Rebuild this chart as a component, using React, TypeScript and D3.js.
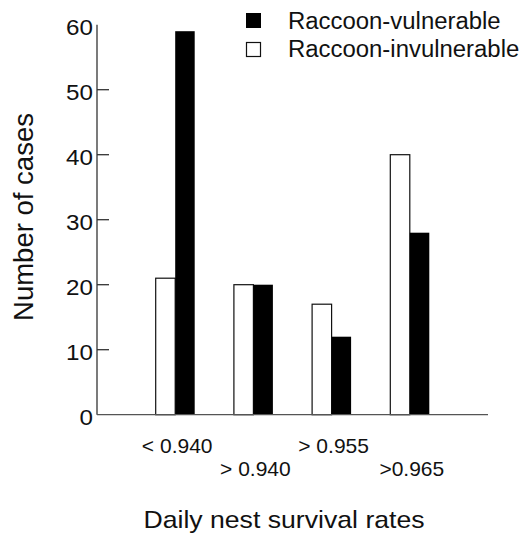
import * as d3 from 'd3';

const categories = ['< 0.940', '> 0.940', '> 0.955', '>0.965'];
const invulnerable = [21, 20, 17, 40];
const vulnerable = [59, 20, 12, 28];
const yTicks = [0, 10, 20, 30, 40, 50, 60];
const seriesNames = ['Raccoon-vulnerable', 'Raccoon-invulnerable'];

const W = 522;
const H = 533;
const FONT = "'Liberation Sans', Arial, Helvetica, sans-serif";

export default function App() {
  const x = d3.scalePoint<string>().domain(categories).range([97, 488]).padding(1);
  const y = d3.scaleLinear().domain([0, 60]).range([414.7, 24.7]);
  const barW = 19.5;

  return (
    <svg
      width={W}
      height={H}
      style={{ position: 'absolute', left: 0, top: 0, background: '#fff' }}
      fontFamily={FONT}
    >
      {/* bars */}
      {categories.map((c, i) => (
        <g key={c}>
          <rect
            x={x(c)! - barW}
            y={y(invulnerable[i])}
            width={barW}
            height={y(0) - y(invulnerable[i])}
            fill="#fff"
            stroke="#111"
            strokeWidth={1.2}
          />
          <rect
            x={x(c)!}
            y={y(vulnerable[i])}
            width={barW}
            height={y(0) - y(vulnerable[i])}
            fill="#000"
          />
        </g>
      ))}

      {/* axes */}
      <line x1={97} x2={97} y1={y(0)} y2={y(60)} stroke="#333" strokeWidth={1.3} />
      <line x1={97} x2={488} y1={y(0)} y2={y(0)} stroke="#555" strokeWidth={1.3} />
      {yTicks.map(t => (
        <g key={t}>
          {t > 0 && t < 60 && (
            <line x1={97} x2={109} y1={y(t)} y2={y(t)} stroke="#333" strokeWidth={1.3} />
          )}
          <text
            transform={`translate(93,${y(t) + 10}) scale(1.1,1)`}
            textAnchor="end"
            fontSize={22}
            fill="#111"
          >
            {t}
          </text>
        </g>
      ))}

      {/* x tick labels, staggered */}
      {categories.map((c, i) => (
        <text
          key={c}
          x={x(c)! + 2}
          y={i % 2 === 0 ? 453 : 476}
          textAnchor="middle"
          fontSize={21}
          fill="#111"
        >
          {c}
        </text>
      ))}

      {/* axis titles */}
      <text
        transform="translate(33,217) rotate(-90)"
        textAnchor="middle"
        fontSize={27.5}
        fill="#111"
      >
        Number of cases
      </text>
      <text
        transform="translate(284,528) scale(1.11,1)"
        textAnchor="middle"
        fontSize={24}
        fill="#111"
      >
        Daily nest survival rates
      </text>

      {/* legend */}
      <rect x={246} y={13} width={15} height={15} fill="#000" />
      <rect x={246.5} y={42.5} width={14} height={14} fill="#fff" stroke="#111" strokeWidth={1.2} />
      {seriesNames.map((s, i) => (
        <text
          key={s}
          transform={`translate(288,${29 + i * 28}) scale(1.04,1)`}
          fontSize={23}
          fill="#111"
        >
          {s}
        </text>
      ))}
    </svg>
  );
}
